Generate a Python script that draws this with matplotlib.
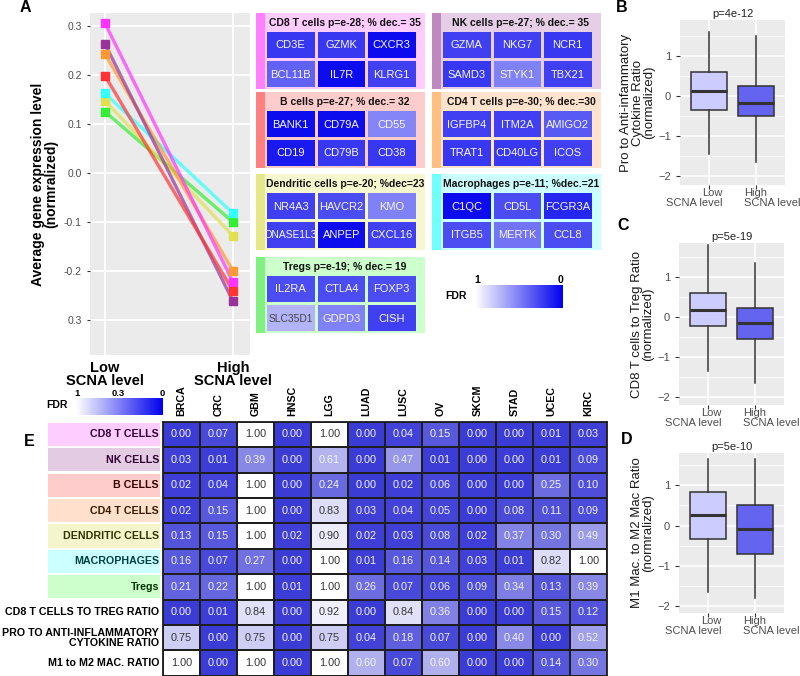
import numpy as np
import matplotlib
matplotlib.use("Agg")
import matplotlib.pyplot as plt
import matplotlib.transforms as mtransforms
from matplotlib.patches import Rectangle
from matplotlib.colors import LinearSegmentedColormap

plt.rcParams['font.family'] = ['Liberation Sans', 'DejaVu Sans']

W, H = 800, 676
fig = plt.figure(figsize=(8, 6.76), dpi=100)


def px_axes(x0, y0, x1, y1, **kw):
    return fig.add_axes([x0 / W, 1 - y1 / H, (x1 - x0) / W, (y1 - y0) / H], **kw)

# ------------------------------------------------------------------ data
cell_types = ["CD8 T cells", "NK cells", "B cells", "CD4 T cells",
              "Dendritic cells", "Macrophages", "Tregs"]
scna_levels = ["Low\nSCNA level", "High\nSCNA level"]
expr_low = [0.305, 0.263, 0.198, 0.242, 0.147, 0.162, 0.125]
expr_high = [-0.222, -0.261, -0.240, -0.199, -0.128, -0.082, -0.100]
a_ytick_vals = [0.3, 0.2, 0.1, 0.0, -0.1, -0.2, -0.3]
a_ytick_labels = ["0.3", "0.2", "0.1", "0.0", "-0.1", "-0.2", "0.3"]

box_headers = ["CD8 T cells p=e-28; % dec.= 35", "NK cells p=e-27; % dec.= 35",
               "B cells p=e-27; % dec.= 32", "CD4 T cells p=e-30; % dec.=30",
               "Dendritic cells p=e-20; %dec=23", "Macrophages p=e-11; %dec.=21",
               "Tregs p=e-19; % dec.= 19"]
genes = [["CD3E", "GZMK", "CXCR3", "BCL11B", "IL7R", "KLRG1"],
         ["GZMA", "NKG7", "NCR1", "SAMD3", "STYK1", "TBX21"],
         ["BANK1", "CD79A", "CD55", "CD19", "CD79B", "CD38"],
         ["IGFBP4", "ITM2A", "AMIGO2", "TRAT1", "CD40LG", "ICOS"],
         ["NR4A3", "HAVCR2", "KMO", "DNASE1L3", "ANPEP", "CXCL16"],
         ["C1QC", "CD5L", "FCGR3A", "ITGB5", "MERTK", "CCL8"],
         ["IL2RA", "CTLA4", "FOXP3", "SLC35D1", "GDPD3", "CISH"]]
gene_fdr = [[0.22, 0.22, 0.05, 0.38, 0.05, 0.25],
            [0.25, 0.25, 0.22, 0.22, 0.50, 0.25],
            [0.05, 0.05, 0.52, 0.10, 0.22, 0.22],
            [0.25, 0.25, 0.35, 0.22, 0.22, 0.25],
            [0.25, 0.30, 0.50, 0.25, 0.05, 0.25],
            [0.05, 0.30, 0.15, 0.30, 0.45, 0.30],
            [0.30, 0.30, 0.30, 0.70, 0.50, 0.25]]

# boxplot stats: (whislo, q1, med, q3, whishi) for Low / High
b_title = "p=4e-12"
b_low = [-1.45, -0.34, 0.12, 0.59, 1.60]
b_high = [-1.64, -0.49, -0.175, 0.26, 1.51]
c_title = "p=5e-19"
c_low = [-1.36, -0.23, 0.18, 0.60, 1.79]
c_high = [-1.64, -0.56, -0.165, 0.21, 1.35]
d_title = "p=5e-10"
d_low = [-1.64, -0.34, 0.26, 0.82, 1.65]
d_high = [-1.79, -0.70, -0.09, 0.51, 1.65]

cancers = ["BRCA", "CRC", "GBM", "HNSC", "LGG", "LUAD", "LUSC", "OV",
           "SKCM", "STAD", "UCEC", "KIRC"]
heat_rows = ["CD8 T CELLS", "NK CELLS", "B CELLS", "CD4 T CELLS",
             "DENDRITIC CELLS", "MACROPHAGES", "Tregs",
             "CD8 T CELLS TO TREG RATIO",
             "PRO TO ANTI-INFLAMMATORY\nCYTOKINE RATIO",
             "M1 to M2 MAC. RATIO"]
fdr = np.array([
    [0.00, 0.07, 1.00, 0.00, 1.00, 0.00, 0.04, 0.15, 0.00, 0.00, 0.01, 0.03],
    [0.03, 0.01, 0.39, 0.00, 0.61, 0.00, 0.47, 0.01, 0.00, 0.00, 0.01, 0.09],
    [0.02, 0.04, 1.00, 0.00, 0.24, 0.00, 0.02, 0.06, 0.00, 0.00, 0.25, 0.10],
    [0.02, 0.15, 1.00, 0.00, 0.83, 0.03, 0.04, 0.05, 0.00, 0.08, 0.11, 0.09],
    [0.13, 0.15, 1.00, 0.02, 0.90, 0.02, 0.03, 0.08, 0.02, 0.37, 0.30, 0.49],
    [0.16, 0.07, 0.27, 0.00, 1.00, 0.01, 0.16, 0.14, 0.03, 0.01, 0.82, 1.00],
    [0.21, 0.22, 1.00, 0.01, 1.00, 0.26, 0.07, 0.06, 0.09, 0.34, 0.13, 0.39],
    [0.00, 0.01, 0.84, 0.00, 0.92, 0.00, 0.84, 0.36, 0.00, 0.00, 0.15, 0.12],
    [0.75, 0.00, 0.75, 0.00, 0.75, 0.04, 0.18, 0.07, 0.00, 0.40, 0.00, 0.52],
    [1.00, 0.00, 1.00, 0.00, 1.00, 0.60, 0.07, 0.60, 0.00, 0.00, 0.14, 0.30],
])
cbar_ticks = ["1", "0.3", "0"]

# ------------------------------------------------------------------ styles
line_colors = ['#FF33FF', '#993399', '#FF3333', '#FF9933', '#E0E050', '#33FFFF', '#33EE33']
line_z = [6, 5, 8, 4, 2, 3, 1]
strip_colors = ['#FF80FF', '#BF88BF', '#FF8080', '#FFBF80', '#E6E68A', '#70FFFF', '#80F080']
bg_colors = ['#FFCCFF', '#E6CFE6', '#FFCCCC', '#FFE3CC', '#F7F7CF', '#CCFFFF', '#CCFFCC']
label_bg = ['#FFCCFF', '#E3CCE3', '#FFCCCC', '#FFE0CC', '#F5F5CC', '#CCFFFF', '#CCFFCC']
label_fg = ['#330033', '#330033', '#330000', '#331A00', '#333300', '#004040', '#003300']
gene_cmap = LinearSegmentedColormap.from_list('g', [(0, '#0000EE'), (1, '#FFFFFF')])
heat_cmap = LinearSegmentedColormap.from_list('h', [(0, (0.23, 0.23, 0.84)), (1, (1, 1, 1))])
grey_bg = '#EBEBEB'
tick_col = '#4D4D4D'

# ------------------------------------------------------------------ panel A
axA = px_axes(90, 13, 250, 355)
axA.set_facecolor(grey_bg)
xs = [1, 2]
for i in range(len(cell_types)):
    axA.plot(xs, [expr_low[i], expr_high[i]], color=line_colors[i], lw=2.4,
             alpha=0.7, zorder=line_z[i], solid_capstyle='butt')
    axA.plot(xs, [expr_low[i], expr_high[i]], ls='none', marker='s', ms=5.5,
             color=line_colors[i], zorder=line_z[i] + 10)
axA.set_xlim(0.883, 2.133)
axA.set_ylim((173 - 355) / 491, (173 - 13) / 491)
axA.set_yticks(a_ytick_vals)
axA.set_yticklabels(a_ytick_labels)
axA.set_xticks(xs)
axA.set_xticklabels(scna_levels, fontsize=10.5, fontweight='bold', color='black',
                    linespacing=0.92)
axA.tick_params(axis='y', labelsize=7.5, colors=tick_col, length=2.5, color='#333333')
axA.tick_params(axis='x', length=0, pad=4)
axA.grid(True, color='white', lw=1.3)
axA.set_axisbelow(True)
for s in axA.spines.values():
    s.set_visible(False)
axA.set_ylabel("Average gene expression level\n(normralized)", fontsize=10,
               fontweight='bold', labelpad=4, linespacing=0.95)

# ------------------------------------------------------------------ boxplots
def boxpanel(box, title, low, high, ylabel, ylim):
    ax = px_axes(*box)
    ax.set_facecolor(grey_bg)
    stats = []
    for lab, v in zip(scna_levels, [low, high]):
        stats.append(dict(whislo=v[0], q1=v[1], med=v[2], q3=v[3], whishi=v[4],
                          label=lab, fliers=[]))
    bp = ax.bxp(stats, positions=[1, 2], widths=0.75, patch_artist=True,
                showcaps=False, showfliers=False,
                boxprops=dict(edgecolor='#333333', lw=1.1),
                whiskerprops=dict(color='#333333', lw=1.1),
                medianprops=dict(color='#333333', lw=2.2))
    for patch, col in zip(bp['boxes'], ['#CCCCFF', '#6464F0']):
        patch.set_facecolor(col)
    ax.set_xlim(0.4, 2.6)
    ax.set_ylim(*ylim)
    ax.set_yticks([-2, -1, 0, 1])
    ax.set_yticklabels(['\u22122', '\u22121', '0', '1'])
    ax.set_yticks([-1.5, -0.5, 0.5, 1.5], minor=True)
    ax.set_xticks([1, 2])
    ax.set_xticklabels([])
    ax.grid(True, which='major', color='white', lw=1.1)
    ax.grid(True, which='minor', axis='y', color='white', lw=0.5)
    ax.set_axisbelow(True)
    ax.tick_params(which='major', labelsize=8, colors=tick_col, length=3, color='#333333')
    ax.tick_params(which='minor', length=0)
    trans = mtransforms.blended_transform_factory(ax.transData, ax.transAxes)
    off = 3 / (box[3] - box[1])
    ax.text(1 + 14 / 48, -off, scna_levels[0], transform=trans, ha='right', va='top',
            multialignment='right', fontsize=8, color=tick_col, linespacing=1.05)
    ax.text(2 - 12 / 48, -off, scna_levels[1], transform=trans, ha='left', va='top',
            multialignment='left', fontsize=8, color=tick_col, linespacing=1.05)
    for s in ax.spines.values():
        s.set_visible(False)
    ax.set_title(title, fontsize=8, pad=2, color='#222222')
    ax.set_ylabel(ylabel, fontsize=9.5, labelpad=2, linespacing=0.95, color='#1a1a1a')
    return ax

boxpanel((680, 20, 785, 185), b_title, b_low, b_high,
         "Pro to Anti-infammatory\nCytokine Ratio\n(normalized)", (-2.22, 1.9))
boxpanel((679, 243, 784, 405), c_title, c_low, c_high,
         "CD8 T cells to Treg Ratio\n(normalized)", (-2.2, 1.84))
boxpanel((679, 453, 784, 613), d_title, d_low, d_high,
         "M1 Mac. to M2 Mac Ratio\n(normralized)", (-2.17, 1.8))

# ------------------------------------------------------------------ panel E heatmap
nr, nc = fdr.shape
axE = px_axes(163, 421.7, 607, 675.7)
axE.pcolormesh(np.arange(nc + 1), np.arange(nr + 1), fdr, cmap=heat_cmap,
               vmin=0, vmax=1, edgecolors='#1E1E1E', linewidth=1.3)
axE.set_xlim(0, nc)
axE.set_ylim(nr, 0)
for r in range(nr):
    for c in range(nc):
        v = fdr[r, c]
        axE.text(c + 0.5, r + 0.5, f"{v:.2f}", ha='center', va='center', fontsize=7.8,
                 color='#333333' if v >= 0.7 else '#F4F4F4')
axE.xaxis.tick_top()
axE.set_xticks(np.arange(nc) + 0.5)
axE.set_xticklabels(cancers, rotation=90, fontsize=7.7, fontweight='bold')
axE.tick_params(axis='x', length=0, pad=4)
axE.set_yticks([])
for s in axE.spines.values():
    s.set_color('#1E1E1E')
    s.set_linewidth(1.3)

axL = px_axes(0, 421.7, 163, 675.7)
axL.set_xlim(0, 163)
axL.set_ylim(nr, 0)
axL.axis('off')
for r, lab in enumerate(heat_rows):
    if r < len(label_bg):
        axL.add_patch(Rectangle((48, r + 0.04), 112, 0.92, color=label_bg[r], lw=0))
        fg = label_fg[r]
    else:
        fg = 'black'
    axL.text(159, r + 0.5, lab, ha='right', va='center', fontsize=7.7,
             fontweight='bold', color=fg, linespacing=1.0)

# ------------------------------------------------------------------ overlay (gene boxes, legends, letters)
ov = px_axes(0, 0, W, H)
ov.set_xlim(0, W)
ov.set_ylim(H, 0)
ov.axis('off')
ov.patch.set_alpha(0)

box_col_x = [256, 432]
box_row_y = [13, 92, 174, 257]
box_grid = [(0, 0), (1, 0), (0, 1), (1, 1), (0, 2), (1, 2), (0, 3)]
BW, BH, SW = 169, 76, 9
for i, (c, r) in enumerate(box_grid):
    x0, y0 = box_col_x[c], box_row_y[r]
    ov.add_patch(Rectangle((x0, y0), BW, BH, color=bg_colors[i], lw=0))
    ov.add_patch(Rectangle((x0, y0), SW, BH, color=strip_colors[i], lw=0))
    ov.text(x0 + SW + (BW - SW) / 2, y0 + 10, box_headers[i], ha='center',
            va='center', fontsize=7.5, fontweight='bold', color='#111111')
    for k, g in enumerate(genes[i]):
        rr, cc = divmod(k, 3)
        cx = x0 + SW + 2 + cc * 50.5
        cy = y0 + 19 + rr * 29
        f = gene_fdr[i][k]
        ov.add_patch(Rectangle((cx, cy), 47.5, 26, color=gene_cmap(f), lw=0))
        ov.text(cx + 23.75, cy + 13.5, g, ha='center', va='center',
                fontsize=7.4 if len(g) > 6 else 8,
                color='#444444' if f >= 0.65 else '#F6F6F6')

# FDR legend of panel A
axG = px_axes(475, 285, 563, 308)
axG.imshow(np.linspace(1, 0, 256)[None, :], aspect='auto', cmap=gene_cmap, vmin=0, vmax=1)
axG.axis('off')
ov.text(477, 280, "1", ha='center', va='center', fontsize=7.5, fontweight='bold')
ov.text(561, 280, "0", ha='center', va='center', fontsize=7.5, fontweight='bold')
ov.text(467, 296, "FDR", ha='right', va='center', fontsize=7.5, fontweight='bold')

# FDR legend of panel E
axH = px_axes(76, 398, 163, 415)
axH.imshow(np.linspace(1, 0, 256)[None, :], aspect='auto', cmap=gene_cmap, vmin=0, vmax=1)
axH.axis('off')
for t, xp in zip(cbar_ticks, [77, 118, 162]):
    ov.text(xp, 393.5, t, ha='center', va='center', fontsize=6.8, fontweight='bold')
ov.text(68, 405, "FDR", ha='right', va='center', fontsize=7.5, fontweight='bold')

# panel letters
for letter, (lx, ly) in zip("ABCDE", [(25, 8), (622, 8), (623, 226), (627, 439), (29, 441)]):
    ov.text(lx, ly, letter, ha='center', va='center', fontsize=11.5, fontweight='bold')

fig.savefig("out.png", dpi=100)
